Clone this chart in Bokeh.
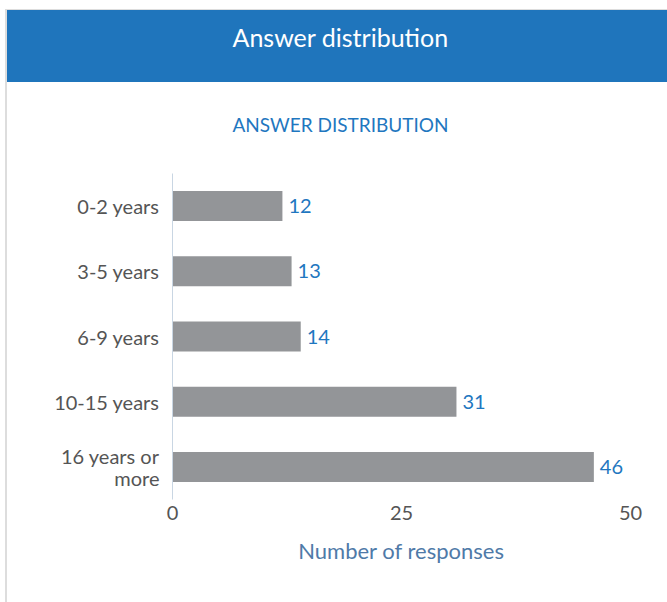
from bokeh.plotting import figure
from bokeh.models import ColumnDataSource, FixedTicker, Range1d, FactorRange, Title
from bokeh.core.properties import value
from bokeh.embed import file_html
from bokeh.resources import INLINE

categories = ["0-2 years", "3-5 years", "6-9 years", "10-15 years", "16 years or\nmore"]
counts = [12, 13, 14, 31, 46]
x_ticks = [0, 25, 50]
header_title = "Answer distribution"
chart_title = "ANSWER DISTRIBUTION"
x_label = "Number of responses"

FONT = "Lato"
W, H = 667, 602

# page decoration (grey frame lines, blue header band) painted behind the transparent canvas
page_styles = {
    "background-image": ("linear-gradient(#dddddd,#dddddd), linear-gradient(#dddddd,#dddddd), "
                         "linear-gradient(#1f75bc,#1f75bc)"),
    "background-position": "5px 9px, 5px 9px, 7px 10px",
    "background-size": "2px 593px, 662px 1px, 660px 72px",
    "background-repeat": "no-repeat",
    "background-color": "white",
}

src = ColumnDataSource(dict(cat=categories, n=counts, lab=[str(c) for c in counts]))
p = figure(width=W, height=H, output_backend="svg", toolbar_location=None,
           y_range=FactorRange(*categories[::-1], range_padding=0),
           x_range=Range1d(0, 50),
           min_border_left=172, min_border_right=37,
           min_border_top=173, min_border_bottom=103,
           styles=page_styles)
p.outline_line_color = None
p.grid.visible = False
p.background_fill_color = "white"
p.border_fill_color = None

# outer title: white header text in the blue band
p.title.text = header_title
p.title.align = "left"
p.title.offset = 60
p.title.vertical_align = "top"
p.title.standoff = 40
p.title.text_font = FONT
p.title.text_font_style = "normal"
p.title.text_font_size = "25px"
p.title.text_color = "white"

# inner title: chart sub-title
p.add_layout(Title(text=chart_title, align="left", offset=60, vertical_align="bottom",
                   standoff=75, text_font=FONT, text_font_style="normal",
                   text_font_size="19px", text_color="#1f77c0"), "above")

p.hbar(y="cat", right="n", left=0, height=0.46, source=src,
       fill_color="#939598", line_color=None)
p.text(x="n", y="cat", text="lab", source=src, x_offset=6,
       text_baseline="middle", text_align="left", text_color="#1f77c0",
       text_font=value(FONT), text_font_size="20px")

p.xaxis.ticker = FixedTicker(ticks=x_ticks)
p.xaxis.axis_line_color = None
p.xaxis.major_tick_line_color = None
p.xaxis.minor_tick_line_color = None
p.xaxis.major_label_standoff = 0
p.xaxis.major_label_text_font = FONT
p.xaxis.major_label_text_font_size = "20px"
p.xaxis.major_label_text_color = "#555555"
p.xaxis.axis_label = x_label
p.xaxis.axis_label_text_font = FONT
p.xaxis.axis_label_text_font_style = "normal"
p.xaxis.axis_label_text_font_size = "22px"
p.xaxis.axis_label_text_color = "#4f7aa8"
p.xaxis.axis_label_standoff = 14

p.yaxis.axis_line_color = "#c9d6e3"
p.yaxis.major_tick_line_color = None
p.yaxis.minor_tick_line_color = None
p.yaxis.major_label_standoff = 7
p.yaxis.major_label_text_font = FONT
p.yaxis.major_label_text_font_size = "20px"
p.yaxis.major_label_text_line_height = 0.9
p.yaxis.major_label_text_color = "#555555"

open("out.html", "w").write(file_html(p, INLINE))
